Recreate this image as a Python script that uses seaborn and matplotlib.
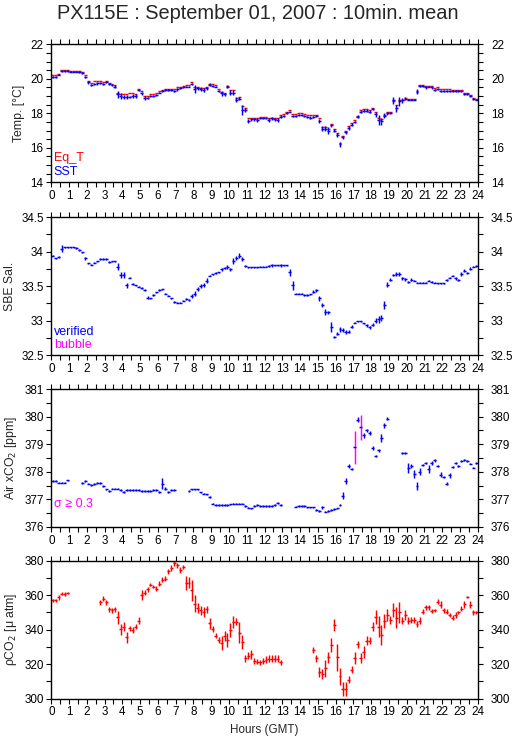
import numpy as np
import pandas as pd
import seaborn as sns
import matplotlib
matplotlib.use("Agg")
import matplotlib.pyplot as plt
import matplotlib.transforms as mtransforms
from matplotlib.ticker import MultipleLocator

nan = np.nan

# 10-minute means, one row per hour (6 values each)
eq_t = [
    20.2, 20.2, 20.3, 20.5, 20.5, 20.5,
    20.48, 20.48, 20.48, 20.45, 20.42, 20.2,
    19.9, 19.75, 19.85, 19.85, 19.85, 19.8,
    19.9, 19.75, 19.72, 19.65, 19.2, 19.1,
    19.1, 19.1, 19.15, 19.15, 19.1, 19.4,
    19.3, 19.0, 19.0, 19.1, 19.1, 19.15,
    19.3, 19.35, 19.4, 19.42, 19.42, 19.4,
    19.5, 19.55, 19.6, 19.62, 19.62, 19.8,
    19.5, 19.5, 19.45, 19.45, 19.5, 19.7,
    19.7, 19.65, 19.4, 19.25, 19.2, 19.6,
    19.35, 19.35, 18.9, 18.95, 18.4, 18.3,
    17.7, 17.75, 17.75, 17.75, 17.8, 17.8,
    17.8, 17.7, 17.75, 17.72, 17.7, 17.9,
    17.95, 18.1, 18.2, 17.95, 17.95, 18.0,
    18.0, 17.95, 17.9, 17.88, 17.9, 17.92,
    17.7, 17.2, 17.2, 17.1, 17.4, 17.1,
    16.85, 16.3, 16.7, 17.0, 17.25, 17.45,
    17.6, 17.85, 18.2, 18.25, 18.25, 18.2,
    18.3, 18.1, 17.7, 17.65, 17.9, 18.1,
    18.1, 18.7, 18.5, 18.75, 18.8, 18.9,
    18.85, 18.85, 18.85, 19.3, 19.65, 19.65,
    19.6, 19.6, 19.6, 19.45, 19.5, 19.4,
    19.4, 19.4, 19.4, 19.38, 19.38, 19.35,
    19.35, 19.2, 19.2, 19.05, 18.9, 18.85,
]

sst = [
    20.1, 20.1, 20.25, 20.45, 20.45, 20.45,
    20.42, 20.42, 20.42, 20.4, 20.35, 20.1,
    19.8, 19.65, 19.7, 19.75, 19.75, 19.7,
    19.8, 19.7, 19.65, 19.55, 19.1, 19.0,
    18.95, 18.95, 18.95, 19.0, 19.0, 19.35,
    19.15, 18.9, 18.9, 19.0, 19.0, 19.05,
    19.2, 19.3, 19.35, 19.35, 19.35, 19.3,
    19.4, 19.45, 19.5, 19.55, 19.55, 19.7,
    19.4, 19.45, 19.4, 19.35, 19.45, 19.65,
    19.6, 19.55, 19.3, 19.15, 19.1, 19.55,
    19.2, 19.2, 18.8, 18.85, 18.2, 18.2,
    17.55, 17.65, 17.65, 17.6, 17.7, 17.7,
    17.7, 17.6, 17.7, 17.65, 17.6, 17.8,
    17.85, 18.0, 18.1, 17.85, 17.85, 17.9,
    17.9, 17.85, 17.8, 17.75, 17.8, 17.85,
    17.55, 17.1, 17.1, 17.0, 17.3, 17.0,
    16.75, 16.2, 16.6, 16.9, 17.15, 17.35,
    17.5, 17.8, 18.1, 18.15, 18.15, 18.1,
    18.25, 17.95, 17.6, 17.55, 17.85, 18.0,
    18.0, 18.75, 18.3, 18.7, 18.75, 18.85,
    18.8, 18.8, 18.8, 19.25, 19.6, 19.6,
    19.5, 19.55, 19.5, 19.35, 19.4, 19.3,
    19.3, 19.3, 19.3, 19.28, 19.28, 19.3,
    19.3, 19.1, 19.1, 19.0, 18.85, 18.8,
]

sst_sd = [
    .05, .05, .05, .05, .05, .05,
    .05, .05, .05, .05, .05, .08,
    .08, .05, .05, .08, .05, .08,
    .05, .05, .05, .08, .2, .15,
    .12, .1, .08, .1, .1, .08,
    .08, .1, .05, .05, .05, .05,
    .05, .05, .05, .08, .08, .08,
    .08, .05, .05, .05, .05, .05,
    .25, .08, .1, .1, .08, .08,
    .05, .05, .08, .12, .1, .08,
    .15, .15, .15, .1, .3, .12,
    .12, .08, .08, .1, .05, .05,
    .05, .12, .08, .08, .1, .1,
    .05, .05, .05, .08, .08, .05,
    .05, .05, .05, .08, .05, .05,
    .1, .15, .15, .2, .1, .1,
    .1, .15, .1, .1, .1, .08,
    .05, .1, .08, .08, .08, .08,
    .05, .15, .3, .2, .15, .1,
    .05, .2, .2, .25, .15, .08,
    .05, .05, .05, .15, .05, .05,
    .08, .05, .08, .05, .05, .05,
    .05, .05, .05, .05, .05, .05,
    .05, .05, .05, .05, .05, .05,
]

sal = [
    33.94, 33.9, 33.92, 34.04, 34.06, 34.06,
    34.06, 34.06, 34.05, 34.02, 33.99, 33.9,
    33.83, 33.81, 33.84, 33.86, 33.89, 33.89,
    33.89, 33.85, 33.86, 33.86, 33.78, 33.66,
    33.66, 33.51, 33.62, 33.53, 33.51, 33.49,
    33.47, 33.44, 33.33, 33.32, 33.37, 33.41,
    33.44, 33.45, 33.39, 33.36, 33.32, 33.27,
    33.26, 33.26, 33.29, 33.31, 33.3, 33.35,
    33.39, 33.46, 33.5, 33.51, 33.58, 33.65,
    33.67, 33.69, 33.7, 33.74, 33.76, 33.78,
    33.74, 33.86, 33.91, 33.94, 33.89, 33.79,
    33.77, 33.77, 33.77, 33.77, 33.78, 33.78,
    33.78, 33.79, 33.8, 33.8, 33.8, 33.8,
    33.8, 33.8, 33.7, 33.51, 33.39, 33.39,
    33.39, 33.37, 33.37, 33.38, 33.42, 33.44,
    33.32, 33.23, 33.12, 33.12, 32.91, 32.76,
    32.81, 32.87, 32.86, 32.83, 32.84, 32.91,
    32.97, 32.99, 32.99, 32.96, 32.93, 32.9,
    32.94, 33.0, 33.02, 33.04, 33.22, 33.52,
    33.59, 33.66, 33.67, 33.67, 33.61, 33.6,
    33.56, 33.59, 33.58, 33.55, 33.55, 33.55,
    33.55, 33.58, 33.56, 33.55, 33.54, 33.54,
    33.54, 33.59, 33.62, 33.65, 33.61, 33.59,
    33.68, 33.72, 33.69, 33.75, 33.78, 33.79,
]

sal_sd = [
    .01, .01, .01, .05, .01, .01,
    .01, .01, .01, .01, .01, .02,
    .01, .01, .01, .01, .01, .01,
    .01, .01, .01, .01, .05, .05,
    .05, .04, .01, .01, .01, .01,
    .01, .01, .02, .01, .01, .01,
    .01, .01, .01, .01, .01, .01,
    .01, .01, .01, .01, .01, .03,
    .04, .03, .03, .03, .03, .01,
    .01, .01, .01, .02, .02, .03,
    .02, .04, .03, .04, .03, .01,
    .01, .01, .01, .01, .01, .01,
    .01, .01, .02, .01, .01, .02,
    .01, .01, .05, .07, .01, .01,
    .01, .02, .02, .01, .02, .02,
    .03, .03, .04, .02, .07, .02,
    .02, .03, .03, .03, .02, .02,
    .01, .01, .01, .01, .02, .02,
    .02, .03, .05, .04, .06, .04,
    .02, .02, .03, .03, .02, .02,
    .01, .02, .01, .01, .01, .01,
    .01, .01, .01, .01, .01, .01,
    .01, .01, .01, .01, .02, .01,
    .03, .02, .01, .02, .01, .01,
]

xco2 = [
    377.67, 377.67, 377.61, 377.61, 377.61, 377.69,
    nan, nan, nan, nan, 377.6, 377.66,
    377.57, 377.51, 377.55, 377.6, 377.6, 377.48,
    377.36, 377.3, 377.39, 377.39, 377.39, 377.33,
    377.27, 377.33, 377.33, 377.33, 377.33, 377.33,
    377.3, 377.3, 377.3, 377.3, 377.33, 377.33,
    377.27, 377.57, 377.39, 377.27, 377.33, 377.33,
    nan, nan, nan, nan, 377.3, 377.36,
    377.36, 377.36, 377.25, 377.21, 377.18, 377.09,
    376.85, 376.79, 376.79, 376.79, 376.79, 376.79,
    376.82, 376.85, 376.85, 376.85, 376.85, 376.77,
    376.7, 376.67, 376.76, 376.8, 376.76, 376.76,
    376.76, 376.76, 376.76, 376.8, 376.86, 376.79,
    nan, nan, nan, nan, 376.74, 376.76,
    376.76, 376.76, 376.71, 376.71, 376.71, 376.61,
    376.59, 376.71, 376.56, 376.58, 376.61, 376.65,
    376.67, 376.79, 377.13, 377.66, 378.21, 378.09,
    378.89, 379.89, 379.62, 379.32, 379.5, 379.41,
    378.87, 378.57, 378.78, 379.22, 379.68, 379.92,
    nan, nan, nan, nan, 378.68, 378.68,
    378.15, 378.21, 377.91, 377.49, 378.0, 378.26,
    378.33, 378.09, 378.32, 378.41, 378.21, 377.9,
    377.81, 377.57, 377.87, 378.18, 378.33, 378.21,
    378.38, 378.44, 378.39, 378.3, 378.15, 378.33,
]

xco2_sd = [
    .03, .03, .03, .03, .03, .03,
    .03, .03, .03, .03, .03, .03,
    .03, .03, .03, .03, .03, .03,
    .03, .03, .03, .03, .03, .03,
    .03, .03, .03, .03, .03, .03,
    .03, .03, .03, .03, .03, .03,
    .03, .2, .05, .03, .03, .03,
    .03, .03, .03, .03, .03, .03,
    .03, .03, .03, .03, .03, .05,
    .03, .03, .03, .03, .03, .03,
    .03, .03, .03, .03, .03, .03,
    .03, .03, .03, .03, .03, .03,
    .03, .03, .03, .03, .03, .03,
    .03, .03, .03, .03, .03, .03,
    .03, .03, .03, .03, .03, .03,
    .03, .05, .03, .03, .03, .03,
    .03, .03, .12, .12, .08, .04,
    .6, .1, .45, .1, .06, .06,
    .08, .05, .05, .14, .08, .06,
    .03, .03, .03, .03, .05, .05,
    .18, .06, .15, .15, .12, .04,
    .04, .15, .08, .06, .04, .08,
    .05, .06, .08, .04, .04, .04,
    .04, .04, .03, .03, .03, .04,
]

# 10-min means whose std dev of air xCO2 is >= 0.3 ppm
xco2_flag_idx = [102, 104]

pco2 = [
    357.1, 357.1, 358.7, 361.0, 360.8, 361.2,
    nan, nan, nan, nan, nan, nan,
    nan, nan, nan, nan, 355.8, 358.1,
    355.8, 351.9, 351.3, 351.9, 347.1, 340.2,
    341.7, 335.6, 340.8, 339.8, 341.7, 345.2,
    360.0, 361.5, 363.5, 366.2, 365.0, 363.8,
    366.7, 369.0, 369.6, 374.0, 375.8, 378.5,
    377.3, 374.6, 376.5, 367.3, 367.3, 362.9,
    355.0, 352.7, 351.3, 350.4, 351.9, 343.7,
    340.4, 336.5, 334.0, 332.1, 336.5, 334.0,
    339.8, 344.6, 344.6, 338.3, 333.1, 323.5,
    325.0, 325.8, 321.9, 321.5, 321.2, 321.9,
    322.5, 323.1, 323.1, 323.1, 323.1, 321.2,
    nan, nan, nan, nan, nan, nan,
    nan, nan, nan, nan, 328.3, 323.5,
    315.4, 314.4, 317.7, 324.0, 331.2, 342.5,
    324.0, 312.9, 305.6, 305.6, 311.0, 316.7,
    323.5, 331.5, 323.5, 326.9, 333.7, 333.5,
    341.7, 347.5, 341.7, 336.9, 345.0, 348.8,
    345.6, 351.3, 346.9, 350.0, 345.2, 348.5,
    345.2, 345.6, 345.6, 343.3, 345.2, 350.4,
    352.9, 352.9, 350.8, 351.3, 356.2, 354.6,
    351.3, 350.4, 348.5, 346.9, 348.5, 350.0,
    352.3, 354.8, 358.8, 354.6, 350.0, 350.0,
]

pco2_sd = [
    1, 1, 1.2, 1, 1, .5,
    1, 1, 1, 1, 1, 1,
    1, 1, 1, 1, 1.5, 1.5,
    1.5, 1.5, 1.5, 1.5, 4, 3,
    2.5, 3, 1.5, 1.5, 1.5, 2,
    3, 1.5, 1.5, 1, 1, 1.5,
    1.5, 1.5, 1.5, 1.5, 1.5, 1.5,
    1.5, 1.5, 1, 4, 3, 6,
    5, 3, 2.5, 3, 2, 3,
    1.5, 1.5, 1.5, 4, 3, 4,
    4, 3.5, 2, 6, 4, 2,
    2, 2.5, 1.5, 1.5, 1.5, 2,
    2, 2, 2, 2, 2, 1.5,
    1, 1, 1, 1, 1, 1,
    1, 1, 1, 1, 1.5, 2,
    3, 3, 5, 3, 4, 3.5,
    8, 5, 4, 4, 2, 2,
    3.5, 2, 3, 3.5, 2.5, 2,
    2.5, 4, 6, 6, 4, 3.5,
    2.5, 4, 6, 6, 2, 3,
    2, 1.5, 1.5, 2, 2, 1.5,
    1.5, 1.5, 1, 1, 1.5, 2,
    1.5, 1.5, 1, 1.5, 1.5, 1,
    1.5, 2, .5, 2, 1.5, 1,
]

hours = (np.arange(144) + 0.5) / 6.0

df = pd.DataFrame({
    "hour": hours, "eq_t": eq_t, "sst": sst, "sst_sd": sst_sd,
    "sal": sal, "sal_sd": sal_sd, "xco2": xco2, "xco2_sd": xco2_sd,
    "pco2": pco2, "pco2_sd": pco2_sd,
})
df["flag"] = False
df.loc[xco2_flag_idx, "flag"] = True

sns.set_theme(style="ticks")
plt.rcParams["font.family"] = ["Liberation Sans", "DejaVu Sans"]
plt.rcParams["axes.linewidth"] = 1.0
plt.rcParams["axes.edgecolor"] = "black"

BLUE = "#0000ff"
RED = "#ff0000"
MAG = "#ff00ff"
FS = 8.4
LW = 1.05


def bars(ax, d, col, err, color):
    d = d.dropna(subset=[col])
    ax.errorbar(d["hour"], d[col], xerr=1 / 12,
                yerr=None if err is None else d[err],
                fmt="none", ecolor=color, elinewidth=LW, capsize=0)


def style(ax, ylim, major, minor, ylabel):
    ax.set_xlim(0, 24)
    ax.set_ylim(*ylim)
    ax.xaxis.set_major_locator(MultipleLocator(1))
    ax.xaxis.set_minor_locator(MultipleLocator(0.5))
    ax.yaxis.set_major_locator(MultipleLocator(major))
    ax.yaxis.set_minor_locator(MultipleLocator(minor))
    ax.tick_params(which="both", direction="out", top=True, right=True,
                   labelright=True, labelsize=FS, width=0.8, colors="black",
                   pad=2)
    ax.tick_params(which="major", length=3.5)
    ax.tick_params(which="minor", length=3.5)
    ax.set_ylabel(ylabel, fontsize=FS + 0.4, labelpad=4)
    ax.yaxis.set_major_formatter(plt.FuncFormatter(lambda v, p: f"{v:g}"))
    # right-hand labels sit a little further from the frame
    shift = mtransforms.ScaledTranslation(4 / 72, 0, fig.dpi_scale_trans)
    for t in ax.yaxis.get_major_ticks():
        t.label2.set_transform(t.label2.get_transform() + shift)
    for s in ax.spines.values():
        s.set_visible(True)


fig = plt.figure(figsize=(5.15, 7.39), dpi=100)
L, W, H = 0.0996, 0.828, 0.1867
ax1 = fig.add_axes([L, 0.7533, W, H])
ax2 = fig.add_axes([L, 0.5196, W, H])
ax3 = fig.add_axes([L, 0.2869, W, H])
ax4 = fig.add_axes([L, 0.0545, W, H])

# Temperature
bars(ax1, df, "eq_t", None, RED)
bars(ax1, df, "sst", "sst_sd", BLUE)
style(ax1, (14, 22), 2, 0.5, "Temp. [°C]")
ax1.text(0.006, 0.176, "Eq_T", color=RED, fontsize=FS + 0.6,
         transform=ax1.transAxes, va="center")
ax1.text(0.006, 0.075, "SST", color=BLUE, fontsize=FS + 0.6,
         transform=ax1.transAxes, va="center")

# Salinity
bars(ax2, df, "sal", "sal_sd", BLUE)
style(ax2, (32.5, 34.5), 0.5, 0.25, "SBE Sal.")
ax2.text(0.006, 0.168, "verified", color=BLUE, fontsize=FS + 0.6,
         transform=ax2.transAxes, va="center")
ax2.text(0.006, 0.072, "bubble", color=MAG, fontsize=FS + 0.6,
         transform=ax2.transAxes, va="center")

# Air xCO2
ok = df[~df["flag"]]
fl = df[df["flag"]]
bars(ax3, ok, "xco2", "xco2_sd", BLUE)
ax3.errorbar(fl["hour"], fl["xco2"], yerr=fl["xco2_sd"], fmt="none",
             ecolor=MAG, elinewidth=LW, capsize=0)
ax3.errorbar(fl["hour"], fl["xco2"], xerr=1 / 12, fmt="none",
             ecolor=BLUE, elinewidth=LW, capsize=0)
style(ax3, (376, 381), 1, 0.5, "Air xCO$_2$ [ppm]")
ax3.text(0.006, 0.166, "σ ≥ 0.3", color=MAG, fontsize=FS + 0.6,
         transform=ax3.transAxes, va="center")

# pCO2
bars(ax4, df, "pco2", "pco2_sd", RED)
style(ax4, (300, 380), 20, 10, "ρCO$_2$ [μ atm]")
ax4.set_xlabel("Hours (GMT)", fontsize=FS, labelpad=4)

fig.suptitle("PX115E : September 01, 2007 : 10min. mean", fontsize=14.4,
             y=0.995, va="top")

fig.savefig("out.png", dpi=100)
